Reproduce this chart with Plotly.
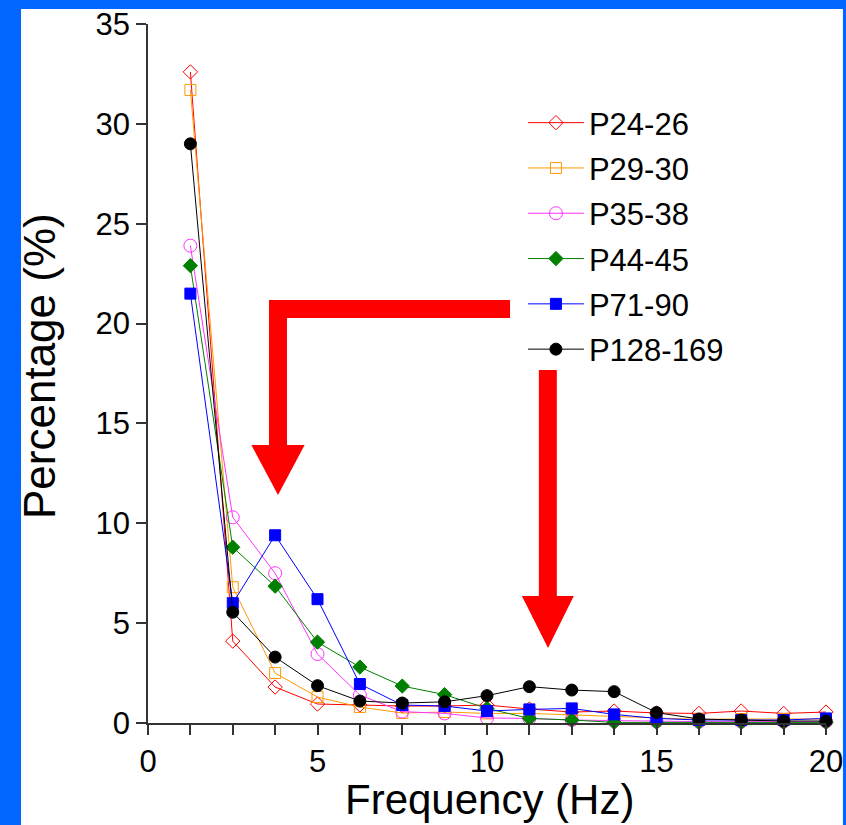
import plotly.graph_objects as go

# ---- data ----
freq = [1.25, 2.5, 3.75, 5, 6.25, 7.5, 8.75, 10, 11.25, 12.5, 13.75, 15, 16.25, 17.5, 18.75, 20]
series_names = ["P24-26", "P29-30", "P35-38", "P44-45", "P71-90", "P128-169"]
p24_26 = [32.6, 4.1, 1.8, 0.95, 0.9, 0.85, 0.85, 0.9, 0.7, 0.55, 0.6, 0.5, 0.48, 0.6, 0.48, 0.55]
p29_30 = [31.7, 6.8, 2.5, 1.3, 0.8, 0.5, 0.55, 0.48, 0.48, 0.4, 0.32, 0.25, 0.18, 0.2, 0.2, 0.2]
p35_38 = [23.9, 10.3, 7.5, 3.45, 1.4, 0.57, 0.48, 0.25, 0.23, 0.15, 0.12, 0.08, 0.07, 0.07, 0.07, 0.07]
p44_45 = [22.9, 8.8, 6.85, 4.05, 2.8, 1.85, 1.42, 0.73, 0.23, 0.15, 0.03, 0.03, 0.03, 0.03, 0.03, 0.03]
p71_90 = [21.5, 6.0, 9.4, 6.2, 1.95, 0.9, 0.85, 0.6, 0.68, 0.73, 0.43, 0.23, 0.15, 0.15, 0.15, 0.23]
p128_169 = [29.0, 5.55, 3.3, 1.87, 1.1, 1.0, 1.06, 1.37, 1.82, 1.65, 1.57, 0.52, 0.2, 0.15, 0.1, 0.1]
x_tick_vals = [0, 1.25, 2.5, 3.75, 5, 6.25, 7.5, 8.75, 10, 11.25, 12.5, 13.75, 15, 16.25, 17.5, 18.75, 20]
x_tick_text = ["0", "", "", "", "5", "", "", "", "10", "", "", "", "15", "", "", "", "20"]
y_tick_vals = [0, 5, 10, 15, 20, 25, 30, 35]

all_series = [p24_26, p29_30, p35_38, p44_45, p71_90, p128_169]
colors = ["#ff0000", "#ff9900", "#ff33ff", "#008000", "#0000ff", "#000000"]
symbols = ["diamond-open", "square-open", "circle-open", "diamond", "square", "circle"]
sizes = [11, 11, 13, 11, 11, 12]

fig = go.Figure()
for i, (name, vals) in enumerate(zip(series_names, all_series)):
    fig.add_trace(go.Scatter(
        x=freq, y=vals, name=name, mode="lines+markers",
        line=dict(color=colors[i], width=1),
        marker=dict(symbol=symbols[i], size=sizes[i], color=colors[i],
                    line=dict(color=colors[i], width=1)),
        cliponaxis=False, legendgroup=name,
    ))

# decorative red arrows (data coordinates)
arrow1 = [(10.68, 21.18), (10.68, 20.28), (4.10, 20.28), (4.10, 13.92), (4.62, 13.92),
          (3.835, 11.42), (3.05, 13.92), (3.57, 13.92), (3.57, 21.18)]
arrow2 = [(11.53, 17.68), (12.06, 17.68), (12.06, 6.36), (12.56, 6.36), (11.80, 3.76),
          (11.03, 6.36), (11.53, 6.36)]

def poly_path(pts):
    return "M " + " L ".join(f"{x},{y}" for x, y in pts) + " Z"

shapes = [
    dict(type="rect", xref="paper", yref="paper", x0=-0.1873, x1=1.025, y0=-0.16, y1=1.0215,
         fillcolor="white", line=dict(width=0), layer="below"),
    dict(type="path", xref="x", yref="y", path=poly_path(arrow1), fillcolor="#ff0000",
         line=dict(width=0), layer="above"),
    dict(type="path", xref="x", yref="y", path=poly_path(arrow2), fillcolor="#ff0000",
         line=dict(width=0), layer="above"),
]

font_main = "Liberation Sans, Arial, Helvetica, sans-serif"
fig.update_layout(
    width=846, height=825, autosize=False,
    margin=dict(l=148, r=20, t=24, b=102, pad=0),
    paper_bgcolor="#0066ff", plot_bgcolor="white",
    shapes=shapes,
    showlegend=True,
    legend=dict(x=0.553, y=0.897, xanchor="left", yanchor="top",
                bgcolor="rgba(0,0,0,0)", font=dict(family=font_main, size=31, color="black"),
                tracegroupgap=2, itemwidth=56),
    font=dict(family=font_main, color="black"),
    annotations=[
        dict(text="Frequency (Hz)", xref="paper", yref="paper", x=0.503, y=-0.11,
             xanchor="center", yanchor="middle", showarrow=False,
             font=dict(family=font_main, size=42, color="black")),
        dict(text="Percentage (%)", xref="paper", yref="paper", x=-0.159, y=0.511,
             xanchor="center", yanchor="middle", showarrow=False, textangle=-90,
             font=dict(family=font_main, size=44, color="black")),
    ],
)
fig.update_xaxes(range=[0, 20], showline=True, linecolor="#333333", linewidth=1.5,
                 showgrid=False, zeroline=False, ticks="outside", ticklen=10,
                 tickcolor="#333333", tickwidth=1.5, tickvals=x_tick_vals, ticktext=x_tick_text,
                 ticklabeloverflow="allow", automargin=False,
                 tickfont=dict(family=font_main, size=31))
fig.update_yaxes(range=[0, 35], showline=True, linecolor="#333333", linewidth=1.5,
                 showgrid=False, zeroline=False, ticks="outside", ticklen=10,
                 tickcolor="#333333", tickwidth=1.5, tickvals=y_tick_vals,
                 ticklabeloverflow="allow", automargin=False,
                 tickfont=dict(family=font_main, size=31))

fig.write_html("out.html")
